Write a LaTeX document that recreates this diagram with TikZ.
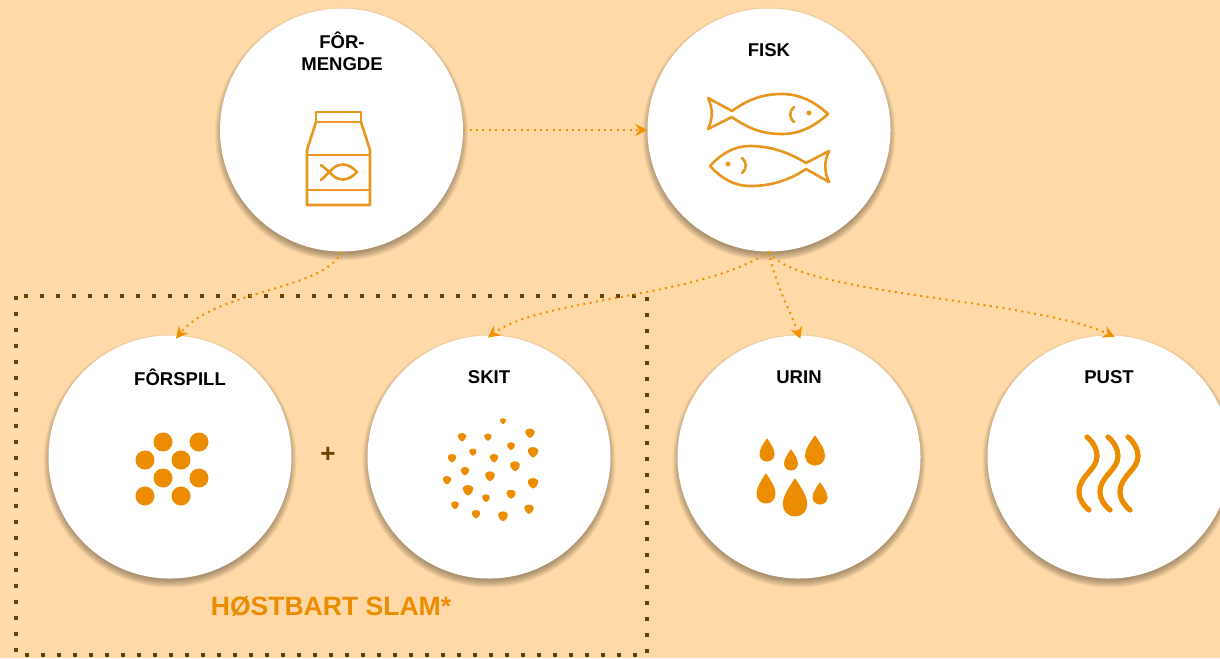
\documentclass[tikz,border=0pt]{standalone}
\usepackage{fontspec}
\setmainfont{Liberation Sans}
\usetikzlibrary{arrows.meta}
\definecolor{bgcol}{HTML}{FFDAA8}
\definecolor{linecol}{HTML}{E8961E}
\definecolor{fillcol}{HTML}{EC8C00}
\definecolor{flowcol}{HTML}{F39200}
\definecolor{boxcol}{HTML}{6B4200}
\tikzset{
	ball/.style={circle,fill=white,minimum size=243*0.75pt,inner sep=0pt},
	title/.style={font=\fontsize{13.9pt}{16.5pt}\selectfont\bfseries,align=center,inner sep=0pt},
	flow/.style={flowcol,line width=2*0.75pt,dash pattern=on 2*0.75pt off 4.4*0.75pt,-{Stealth[length=9pt,width=9pt,inset=3pt]}},
	icon/.style={linecol,line width=2.6*0.75pt,line join=round,line cap=round}
}
\begin{document}
\begin{tikzpicture}[x=0.75pt,y=-0.75pt]
\useasboundingbox (0,0) rectangle (1220,658);
\fill[bgcol] (0,0) rectangle (1220,658);
\foreach \r in {5,4,3,2,1,0,-1,-2}
{
	\foreach \x/\y in {341.5/130,769/130,170/457,489/457,799/457,1109/457}
	{
		\fill[black!70!bgcol,opacity=0.07] (\x,\y+4) circle[radius=(121.5+\r)*0.75pt];
	}
}
\node[ball] (formengde) at (341.5,130) {};
\node[ball] (fisk) at (769,130) {};
\node[ball] (forspill) at (170,457) {};
\node[ball] (skit) at (489,457) {};
\node[ball] (urin) at (799,457) {};
\node[ball] (pust) at (1109,457) {};
\node[title] (formengdetxt) at (342,51) {FÔR-\\MENGDE};
\node[title] (fisktxt) at (769,50) {FISK};
\node[title] (forspilltxt) at (180,377) {FÔRSPILL};
\node[title] (skittxt) at (489,377) {SKIT};
\node[title] (urintxt) at (799,377) {URIN};
\node[title] (pusttxt) at (1109,377) {PUST};
\node[font=\fontsize{19.5pt}{22pt}\selectfont\bfseries,text=boxcol,inner sep=0pt] (plus) at (328,455) {+};
\node[font=\fontsize{19.9pt}{22pt}\selectfont\bfseries,text=fillcol,inner sep=0pt] (slam) at (331,606) {HØSTBART SLAM*};
\draw[boxcol,line width=4*0.75pt,dash pattern=on 4*0.75pt off 12*0.75pt] (16,296) rectangle (647,655);
\draw[flow] (formengde) -- (fisk);
\draw[flow,shorten >=-3pt] (formengde.south) .. controls (325,290) and (215,290) .. (forspill.86);
\draw[flow,shorten >=-3pt] (fisk.south) .. controls (700,298) and (540,298) .. (skit.89);
\draw[flow,shorten >=-3pt] (fisk.south) .. controls (775,285) and (790,310) .. (urin.north);
\draw[flow,shorten >=-3pt] (fisk.south) .. controls (795,295) and (1030,298) .. (pust.89);
\draw[icon] (316,112) rectangle (361,122);
\draw[icon] (316,122) -- (307,150) -- (307,205) -- (370,205) -- (370,150) -- (361,122);
\draw[icon] (307,155) -- (370,155) (307,190) -- (370,190);
\draw[icon] (321,165) -- (329.5,172) .. controls (337,162) and (348,162) .. (357,172) .. controls (348,182) and (337,182) .. (329.5,172) -- (321,180);
\draw[icon] (708,98) -- (732,111) .. controls (750,98) and (765,94) .. (782,94) .. controls (800,94) and (815,102) .. (828,114) .. controls (815,126) and (800,134) .. (782,134) .. controls (765,134) and (750,130) .. (732,117) -- (708,129) .. controls (713,118) and (713,109) .. (708,98);
\draw[icon] (794,107) .. controls (789,111) and (789,118) .. (794,122);
\fill[linecol] (809,113) circle[radius=2.5*0.75pt];
\draw[icon] (829,151) -- (806,163) .. controls (788,152) and (770,146) .. (750,146) .. controls (733,146) and (720,155) .. (710,166) .. controls (720,177) and (733,186) .. (750,186) .. controls (770,186) and (788,181) .. (806,169) -- (829,182) .. controls (824,171) and (824,162) .. (829,151);
\draw[icon] (742,158) .. controls (747,162) and (747,169) .. (742,173);
\fill[linecol] (728,164) circle[radius=2.5*0.75pt];
\foreach \x/\y in {163/442,199/442,145/460,181/460,163/478,199/478,145/496,181/496}
{
	\fill[fillcol] (\x,\y) circle[radius=9.5*0.75pt];
}
\foreach \x/\y/\s in {503/421/3,530/433/4.5,462/437/4,488/437/3.5,511/446/3.7,533/452/5,473/452/3.5,452/458/4,494/458/4,515/466/4.7,465/471/4,447/480/4,490/476/4.7,533/483/5,468/490/5,511/494/4.3,486/498/3.7,455/505/3.7,529/509/4.5,476/514/4,503/516/4.7}
{
	\fill[fillcol,shift={(\x,\y)},scale=\s] (-1,-.5) .. controls (-.7,-1.1) and (.5,-1.2) .. (1,-.5) .. controls (1.2,.2) and (.5,1) .. (0,1.1) .. controls (-.6,1) and (-1.2,-.1) .. cycle;
}
\foreach \x/\t/\s/\h in {767/439/7/22,791/450/6.4/20,815/436/9.5/29,766/474/9/29,795/479/11.7/37,820/483/7/21}
{
	\filldraw[fillcol,line width=0.75pt,line join=round,shift={(\x,\t)},xscale=\s,yscale=\h] (0,0) .. controls (.4,.2) and (1,.45) .. (1,.68) .. controls (1,.87) and (.55,1) .. (0,1) .. controls (-.55,1) and (-1,.87) .. (-1,.68) .. controls (-1,.45) and (-.4,.2) .. cycle;
}
\foreach \x in {0,21,41}
{
	\draw[fillcol,line width=5.2*0.75pt,line cap=round] (1087+\x,437) .. controls (1093+\x,442) and (1097+\x,449) .. (1097+\x,456) .. controls (1097+\x,470) and (1079+\x,476) .. (1079+\x,492) .. controls (1079+\x,499) and (1083+\x,505) .. (1089+\x,510);
}
\end{tikzpicture}
\end{document}
